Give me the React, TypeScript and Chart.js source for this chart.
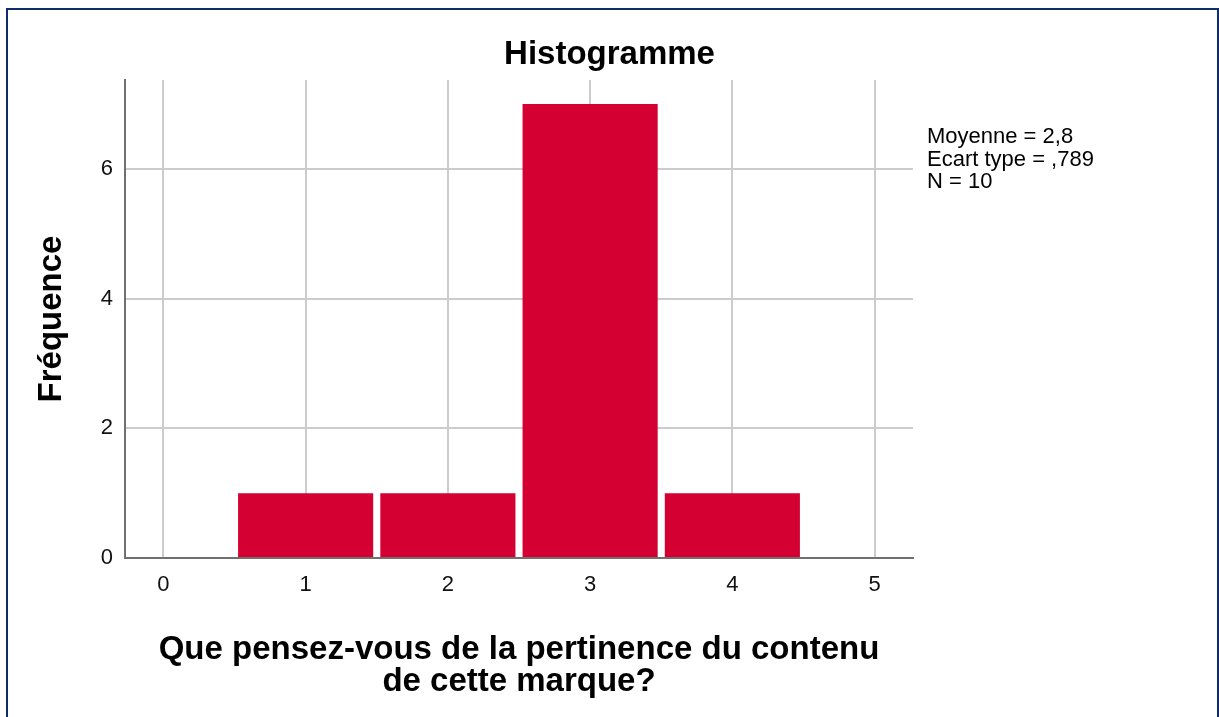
import React, { useEffect, useRef } from 'react';
import { Chart, registerables } from 'chart.js';

Chart.register(...registerables);

// ---- data ----
const binValues = [1, 2, 3, 4];
const frequencies = [1, 1, 7, 1];
const statsLines = ['Moyenne = 2,8', 'Ecart type = ,789', 'N = 10'];
const chartTitle = 'Histogramme';
const yAxisTitle = 'Fréquence';
const xAxisTitleLines = ['Que pensez-vous de la pertinence du contenu', 'de cette marque?'];
const xRange = [-0.27, 5.27];
const yRange = [0, 7.37];

const FONT = '"Liberation Sans", Arial, Helvetica, sans-serif';

export default function App() {
  const ref = useRef<HTMLCanvasElement | null>(null);

  useEffect(() => {
    if (!ref.current) return;
    Chart.defaults.font.family = FONT;

    const statsPlugin = {
      id: 'statsText',
      afterDraw(chart: any) {
        const { ctx, chartArea } = chart;
        ctx.save();
        ctx.font = `22px ${FONT}`;
        ctx.fillStyle = '#000';
        ctx.textBaseline = 'middle';
        ctx.textAlign = 'left';
        statsLines.forEach((s, i) => {
          ctx.fillText(s, chartArea.right + 14, chartArea.top + 57 + i * 22.5);
        });
        ctx.restore();
      },
    };

    const chart = new Chart(ref.current, {
      type: 'bar',
      data: {
        datasets: [
          {
            data: binValues.map((x, i) => ({ x, y: frequencies[i] })),
            backgroundColor: '#d50032',
            borderWidth: 0,
            barPercentage: 0.95,
            categoryPercentage: 1,
          },
        ],
      },
      options: {
        responsive: false,
        animation: false,
        devicePixelRatio: 1,
        layout: { padding: 0 },
        plugins: {
          legend: { display: false },
          tooltip: { enabled: false },
          title: {
            display: true,
            text: chartTitle,
            color: '#000',
            font: { size: 33, weight: 'bold', family: FONT },
            padding: { top: 34.7, bottom: 5.7 },
          },
        },
        scales: {
          x: {
            type: 'linear',
            min: xRange[0],
            max: xRange[1],
            offset: false,
            grid: { offset: false, color: '#cccccc', lineWidth: 2, drawTicks: false },
            border: { display: true, color: '#707070', width: 2 },
            ticks: {
              stepSize: 1,
              includeBounds: false,
              padding: 14,
              color: '#111',
              font: { size: 22, family: FONT },
            },
            title: {
              display: true,
              text: xAxisTitleLines,
              color: '#000',
              font: { size: 33, weight: 'bold', family: FONT, lineHeight: 0.97 },
              padding: { top: 0, bottom: 19 },
            },
            afterFit(scale: any) {
              scale.height = 159;
            },
          },
          y: {
            type: 'linear',
            position: 'left',
            min: yRange[0],
            max: yRange[1],
            grid: { color: '#cccccc', lineWidth: 2, drawTicks: false },
            border: { display: true, color: '#707070', width: 2 },
            ticks: {
              stepSize: 2,
              includeBounds: false,
              padding: 12,
              color: '#111',
              font: { size: 22, family: FONT },
            },
            title: {
              display: true,
              text: yAxisTitle,
              color: '#000',
              font: { size: 33, weight: 'bold', family: FONT },
              padding: { top: 31.7, bottom: 0 },
            },
            afterFit(scale: any) {
              scale.width = 125;
            },
          },
          yRightSpacer: {
            type: 'linear',
            position: 'right',
            display: true,
            grid: { display: false, drawTicks: false },
            border: { display: false },
            ticks: { display: false },
            afterFit(scale: any) {
              scale.width = 306;
            },
          },
        },
      },
      plugins: [statsPlugin],
    } as any);

    return () => chart.destroy();
  }, []);

  return (
    <>
      <div
        style={{
          position: 'fixed',
          left: 6,
          top: 8,
          width: 1213,
          height: 760,
          boxSizing: 'border-box',
          borderLeft: '2px solid #0f2c6c',
          borderTop: '2px solid #0f2c6c',
          borderRight: '2px solid #0f2c6c',
          background: '#ffffff',
        }}
      />
      <canvas
        ref={ref}
        width={1219}
        height={717}
        style={{ position: 'fixed', left: 0, top: 0, width: 1219, height: 717 }}
      />
    </>
  );
}
